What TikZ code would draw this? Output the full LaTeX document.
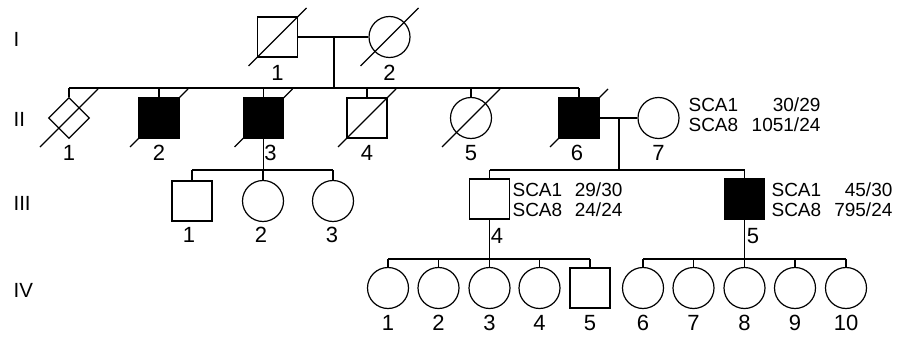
\documentclass[tikz,border=0pt]{standalone}
\usepackage{fontspec}
\setmainfont{Liberation Sans}
\usetikzlibrary{shapes.geometric}
\begin{document}
\begin{tikzpicture}[x=1pt,y=-1pt,line width=1.2pt,
 male/.style={draw,rectangle,minimum size=40pt,inner sep=0pt},
 female/.style={draw,circle,minimum size=41pt,inner sep=0pt},
 unk/.style={draw,diamond,minimum size=41pt,inner sep=0pt},
 aff/.style={fill=black},
 num/.style={font=\fontsize{22}{22}\selectfont,inner sep=0pt},
 gen/.style={font=\fontsize{20.5}{20.5}\selectfont,inner sep=0pt,anchor=west},
 sca/.style={font=\fontsize{19}{19}\selectfont,inner sep=0pt}]
\useasboundingbox (0,0) rectangle (900,337);
\newcommand{\deceased}[1]{\draw ([shift={(-29,29)}]#1.center) -- ([shift={(29,-29)}]#1.center);}
% generation labels
\node[gen] (gI) at (13,39.5) {I};
\node[gen] (gII) at (13,119.5) {II};
\node[gen] (gIII) at (13,203.5) {III};
\node[gen] (gIV) at (13,290.5) {IV};
% generation I
\node[male] (I1) at (277.5,37) {};
\node[female] (I2) at (389.5,37) {};
\deceased{I1}\deceased{I2}
\node[num] (lI1) at (277.5,72.5) {1};
\node[num] (lI2) at (389.5,72.5) {2};
\coordinate (mI) at (334,37);
\coordinate (sIIa) at (69,88);
\coordinate (sIIb) at (579,88);
\draw (I1.east) -- (I2.west);
\draw (mI) -- (mI |- sIIa);
\draw (sIIa) -- (sIIb);
% generation II
\node[unk] (II1) at (69,118) {};
\node[male,aff] (II2) at (159,118) {};
\node[male,aff] (II3) at (263.5,118) {};
\node[male] (II4) at (367,118) {};
\node[female] (II5) at (471,118) {};
\node[male,aff] (II6) at (579,118) {};
\node[female] (II7) at (658.5,118) {};
\deceased{II1}\deceased{II2}\deceased{II3}\deceased{II4}\deceased{II5}\deceased{II6}
\foreach \n in {II1,II2,II3,II4,II5,II6} {\draw (\n.north) -- (\n.north |- sIIa);}
\node[num] (lII1) at (69,153) {1};
\node[num] (lII2) at (159,153) {2};
\node[num] (lII3) at (270.5,153) {3};
\node[num] (lII4) at (367,153) {4};
\node[num] (lII5) at (471,153) {5};
\node[num] (lII6) at (577,153) {6};
\node[num] (lII7) at (658.5,153) {7};
\node[sca,anchor=west] (tII7a) at (688,105) {SCA1};
\node[sca,anchor=west] (tII7b) at (688,125) {SCA8};
\node[sca,anchor=east] (vII7a) at (821,105) {30/29};
\node[sca,anchor=east] (vII7b) at (821,125) {1051/24};
\draw (II6.east) -- (II7.west);
\coordinate (mII) at (619,118);
% generation III (left)
\coordinate (sIIIa) at (192,170);
\coordinate (sIIIb) at (333,170);
\draw (II3.south) -- (II3.south |- sIIIa);
\draw (sIIIa) -- (sIIIb);
\node[male] (III1) at (192,201) {};
\node[female] (III2) at (263,201) {};
\node[female] (III3) at (333,201) {};
\foreach \n in {III1,III2,III3} {\draw (\n.north) -- (\n.north |- sIIIa);}
\node[num] (lIII1) at (189,235) {1};
\node[num] (lIII2) at (261,235) {2};
\node[num] (lIII3) at (332,235) {3};
% generation III (right)
\coordinate (sIIIc) at (489.5,170);
\coordinate (sIIId) at (744.5,170);
\draw (mII) -- (mII |- sIIIc);
\draw (sIIIc) -- (sIIId);
\node[male] (III4) at (489.5,199) {};
\node[male,aff] (III5) at (744.5,199) {};
\foreach \n in {III4,III5} {\draw (\n.north) -- (\n.north |- sIIIc);}
\node[num] (lIII4) at (497,236) {4};
\node[num] (lIII5) at (753,236) {5};
\node[sca,anchor=west] (tIII4a) at (512,189.5) {SCA1};
\node[sca,anchor=west] (tIII4b) at (512,210) {SCA8};
\node[sca,anchor=east] (vIII4a) at (623,189.5) {29/30};
\node[sca,anchor=east] (vIII4b) at (623,210) {24/24};
\node[sca,anchor=west] (tIII5a) at (771,189.5) {SCA1};
\node[sca,anchor=west] (tIII5b) at (771,210) {SCA8};
\node[sca,anchor=east] (vIII5a) at (893,189.5) {45/30};
\node[sca,anchor=east] (vIII5b) at (893,210) {795/24};
% generation IV
\coordinate (sIVa) at (388,259);
\coordinate (sIVb) at (590,259);
\coordinate (sIVc) at (643,259);
\coordinate (sIVd) at (846,259);
\draw (III4.south) -- (III4.south |- sIVa);
\draw (III5.south) -- (III5.south |- sIVc);
\draw (sIVa) -- (sIVb);
\draw (sIVc) -- (sIVd);
\node[female] (IV1) at (388,288) {};
\node[female] (IV2) at (438.5,288) {};
\node[female] (IV3) at (489.5,288) {};
\node[female] (IV4) at (539.5,288) {};
\node[male] (IV5) at (590,288) {};
\node[female] (IV6) at (643,288) {};
\node[female] (IV7) at (693.5,288) {};
\node[female] (IV8) at (744.5,288) {};
\node[female] (IV9) at (795,288) {};
\node[female] (IV10) at (846,288) {};
\foreach \n in {IV1,IV2,IV3,IV4,IV5,IV6,IV7,IV8,IV9,IV10} {\draw (\n.north) -- (\n.north |- sIVa);}
\foreach \n/\t in {IV1/1,IV2/2,IV3/3,IV4/4,IV5/5,IV6/6,IV7/7,IV8/8,IV9/9,IV10/10} {\node[num] (l\n) at (\n.center |- 0,323) {\t};}
\end{tikzpicture}
\end{document}
